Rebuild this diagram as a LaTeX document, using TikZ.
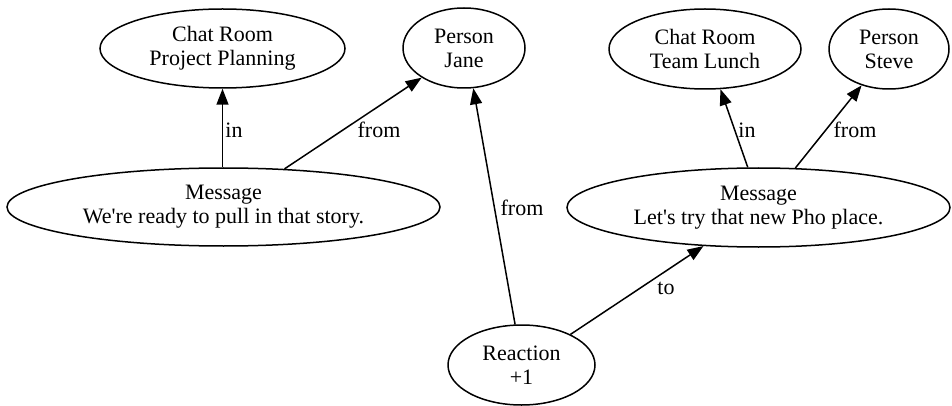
\documentclass[tikz,border=0pt]{standalone}
\usepackage{fontspec}
\setmainfont{Liberation Serif}
\usetikzlibrary{shapes.geometric,arrows.meta}
\begin{document}
\begin{tikzpicture}[x=1pt,y=-1pt,
  ent/.style={draw, ellipse, inner sep=0pt, align=center, line width=1.5pt,
    font=\fontsize{22}{24}\selectfont},
  rel/.style={line width=1.5pt, -{Triangle[length=16pt,width=12pt]}},
  lbl/.style={font=\fontsize{22}{24}\selectfont, inner sep=0pt}]
\useasboundingbox (0,0) rectangle (952,406);
% nodes
\node[ent, minimum width=245pt, minimum height=79pt] (cr1) at (222.5,48.5) {Chat Room\\Project Planning};
\node[ent, minimum width=122pt, minimum height=80pt] (jane) at (464,48) {Person\\Jane};
\node[ent, minimum width=192pt, minimum height=80pt] (cr2) at (705,49) {Chat Room\\Team Lunch};
\node[ent, minimum width=120pt, minimum height=80pt] (steve) at (889,49) {Person\\Steve};
\node[ent, minimum width=433pt, minimum height=78pt] (msg1) at (223.5,207) {Message\\We\textquotesingle re ready to pull in that story.};
\node[ent, minimum width=383pt, minimum height=79pt] (msg2) at (758.5,207.5) {Message\\Let\textquotesingle s try that new Pho place.};
\node[ent, minimum width=147pt, minimum height=80pt] (react) at (521.5,365) {Reaction\\+1};
% edges
\draw[rel] (msg1.north -| cr1.south) -- (cr1.south);
\draw[rel] (msg1.32) -- (jane.215);
\draw[rel] (react.99) -- (jane.283);
\draw[rel] (react.32) -- (msg2.215);
\draw[rel] (msg2.105) -- (cr2.291);
\draw[rel] (msg2.47) -- (steve.233);
% labels
\node[lbl] (l1) at (234,130) {in};
\node[lbl] (l2) at (379,130) {from};
\node[lbl] (l3) at (522,208) {from};
\node[lbl] (l4) at (666,288) {to};
\node[lbl] (l5) at (747,130) {in};
\node[lbl] (l6) at (855,130) {from};
\end{tikzpicture}
\end{document}
